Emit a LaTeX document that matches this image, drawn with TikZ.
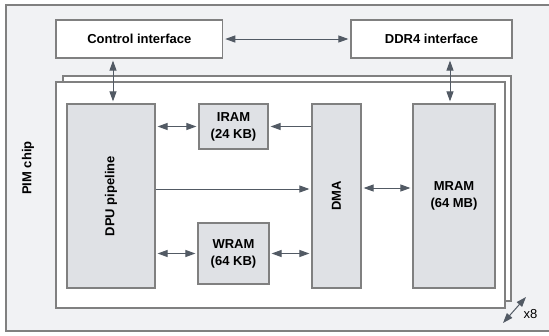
\documentclass[tikz,border=0pt]{standalone}
\usepackage{fontspec}
\setmainfont{Liberation Sans}
\usetikzlibrary{arrows.meta}
\definecolor{bgc}{RGB}{241,242,244}
\definecolor{boxc}{RGB}{223,225,229}
\definecolor{edgec}{RGB}{128,128,128}
\definecolor{arrc}{RGB}{82,90,100}
\tikzset{
  frame/.style={draw=edgec, line width=1.2pt, inner sep=0pt},
  whitebox/.style={frame, fill=white, font=\fontsize{13}{17}\selectfont\bfseries},
  graybox/.style={frame, fill=boxc, align=center, font=\fontsize{13}{17}\selectfont\bfseries},
  tip/.style={Triangle[length=10pt,width=7pt]},
  arr/.style={draw=arrc, line width=1pt, -{Triangle[length=10pt,width=7pt]}, shorten >=2pt},
  darr/.style={draw=arrc, line width=1pt, {Triangle[length=10pt,width=7pt]}-{Triangle[length=10pt,width=7pt]}, shorten >=2pt, shorten <=2pt},
}
\begin{document}
\begin{tikzpicture}[x=1pt,y=-1pt]
\useasboundingbox (0,0) rectangle (549,335);
\node[frame, fill=bgc, minimum width=546pt, minimum height=326pt] (outer) at (279,168) {};
\node[rotate=90, font=\fontsize{13}{16}\selectfont\bfseries] (pim) at (28,168) {PIM chip};
\node[whitebox, minimum width=166.7pt, minimum height=38pt] (ctrl) at (139.3,39) {Control interface};
\node[whitebox, minimum width=161pt, minimum height=38pt] (ddr) at (431.5,39) {DDR4 interface};
\node[frame, fill=white, minimum width=448pt, minimum height=225pt] (back) at (287,188.5) {};
\node[frame, fill=white, minimum width=449pt, minimum height=226pt] (front) at (280.5,195) {};
\node[graybox, minimum width=88pt, minimum height=184pt] (dpu) at (111,196) {};
\node[rotate=90, font=\fontsize{13}{17}\selectfont\bfseries] (dputext) at (dpu.center) {DPU pipeline};
\node[graybox, minimum width=69pt, minimum height=45pt] (iram) at (233.5,126.5) {IRAM\\(24 KB)};
\node[graybox, minimum width=71pt, minimum height=61pt] (wram) at (233.5,253.5) {WRAM\\(64 KB)};
\node[graybox, minimum width=49pt, minimum height=184pt] (dma) at (336.5,196) {};
\node[rotate=90, font=\fontsize{13}{17}\selectfont\bfseries] (dmatext) at (dma.center) {DMA};
\node[graybox, minimum width=82pt, minimum height=184pt] (mram) at (454,196) {MRAM\\(64 MB)};
% connectors
\draw[darr] (ctrl.east) -- (ddr.west);
\coordinate (cx) at (113,0);
\coordinate (dx) at (450,0);
\draw[darr] (cx |- ctrl.south) -- (cx |- dpu.north);
\draw[darr] (dx |- ddr.south) -- (dx |- mram.north);
\draw[darr] (iram.west -| dpu.east) -- (iram.west);
\draw[arr] (iram.east -| dma.west) -- (iram.east);
\coordinate (my) at (0,189);
\coordinate (ny) at (0,188);
\draw[arr] (my -| dpu.east) -- (my -| dma.west);
\draw[darr] (wram.west -| dpu.east) -- (wram.west);
\draw[darr] (wram.east) -- (wram.east -| dma.west);
\draw[darr] (ny -| dma.east) -- (ny -| mram.west);
% x8
\coordinate (xa) at (503,323);
\coordinate (xb) at (526,297);
\draw[darr, shorten >=0pt, shorten <=0pt] (xa) -- (xb);
\node[font=\fontsize{13}{16}\selectfont, inner sep=0pt] (x8) at (530.5,314) {x8};
\end{tikzpicture}
\end{document}
